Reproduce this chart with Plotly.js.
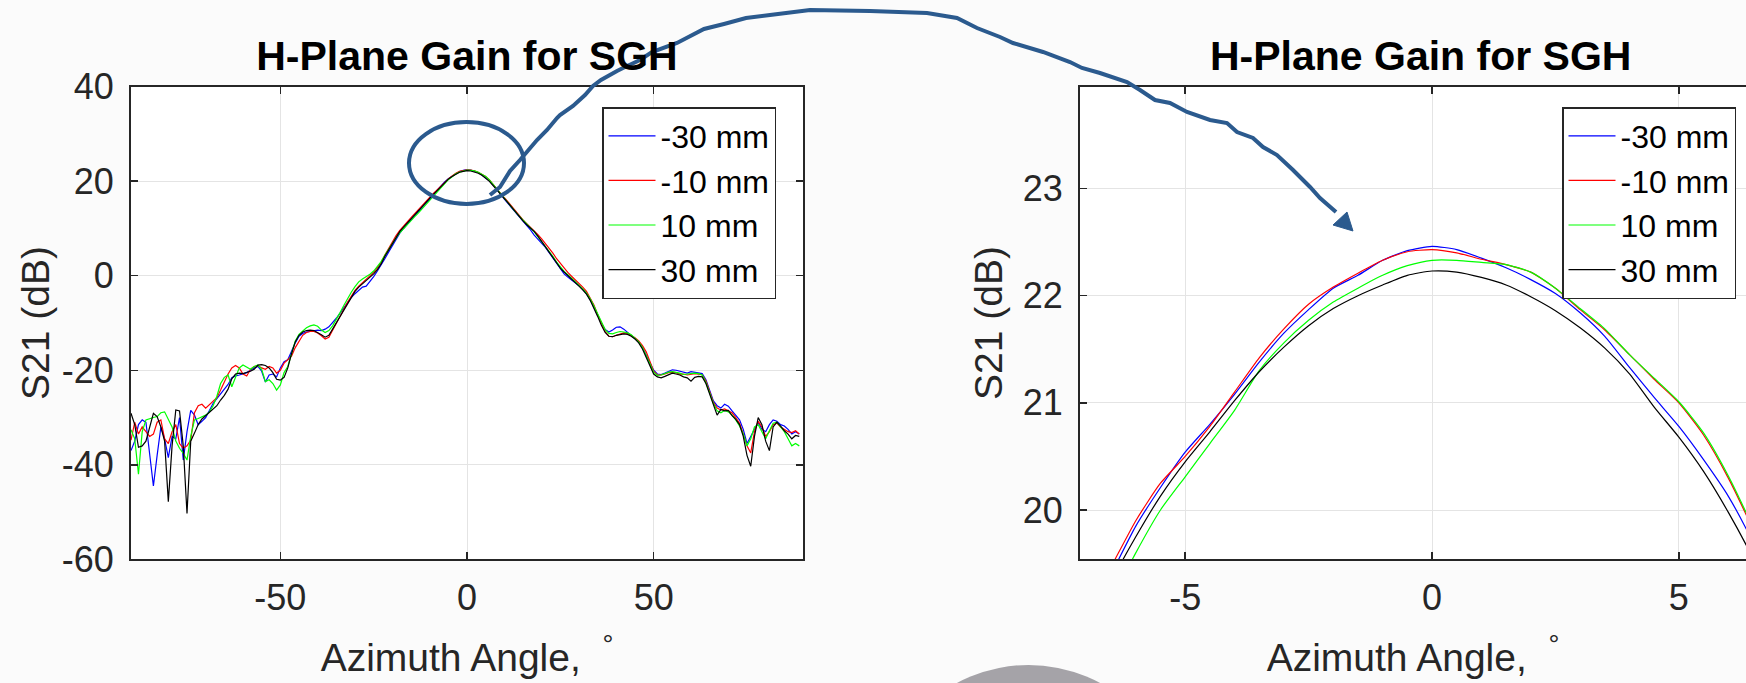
<!DOCTYPE html>
<html><head><meta charset="utf-8">
<script src="https://cdn.plot.ly/plotly-3.0.1.min.js"></script>
<style>html,body{margin:0;padding:0;background:#fbfbfb;overflow:hidden}#chart{width:1746px;height:683px}</style>
</head><body><div id="chart"></div>
<script>
// ---------- DATA ----------
const seriesNames = ['-30 mm', '-10 mm', '10 mm', '30 mm'];
const seriesColors = ['#0000ff', '#ff0000', '#00ff00', '#000000'];

// Full pattern, azimuth angle (deg)
const angle = [
-90,-89,-88,-87,-86,-85,-84,-83,-82,-81,
-80,-79,-78,-77,-76,-75,-74,-73,-72,-71,
-70,-69,-68,-67,-66,-65,-64,-63,-62,-61,
-60,-59,-58,-57,-56,-55,-54,-53,-52,-51,
-50,-49,-48,-47,-46,-45,-44,-43,-42,-41,
-40,-39,-38,-37,-36,-35,-34,-33,-32,-31,
-30,-29,-28,-27,-26,-25,-24,-23,-22,-21,
-20,-19,-18,-17,-16,-15,-14,-13,-12,-11,
-10,-9,-8,-7,-6,-5,-4,-3,-2,-1,
0,1,2,3,4,5,6,7,8,9,
10,11,12,13,14,15,16,17,18,19,
20,21,22,23,24,25,26,27,28,29,
30,31,32,33,34,35,36,37,38,39,
40,41,42,43,44,45,46,47,48,49,
50,51,52,53,54,55,56,57,58,59,
60,61,62,63,64,65,66,67,68,69,
70,71,72,73,74,75,76,77,78,79,
80,81,82,83,84,85,86,87,88,89];

// S21 (dB), -30 mm
const s21_m30 = [
-37.0,-35.0,-31.5,-30.5,-31.0,-38.0,-44.5,-38.0,-32.0,-34.5,
-38.5,-34.0,-34.5,-30.0,-39.0,-33.0,-28.5,-29.5,-31.5,-30.8,
-30.0,-28.5,-27.0,-26.0,-25.0,-24.0,-23.0,-21.6,-21.2,-21.0,
-20.8,-20.5,-20.0,-19.5,-19.2,-20.2,-22.5,-21.0,-20.8,-21.4,
-19.5,-18.2,-17.8,-16.0,-14.2,-12.8,-12.2,-11.9,-11.8,-11.7,
-11.5,-11.6,-11.3,-10.8,-10.0,-9.0,-7.9,-6.8,-5.6,-4.6,
-3.8,-3.0,-2.4,-2.2,-1.3,-0.2,1.0,2.2,3.6,5.0,
6.4,7.7,9.0,10.0,11.0,11.8,12.7,13.6,14.6,15.5,
16.4,17.25,18.1,18.95,19.84,20.54,21.07,21.65,22.07,22.33,
22.46,22.35,22.15,21.84,21.33,20.78,20.13,19.2,18.3,17.3,
16.2,15.3,14.3,13.3,12.4,11.5,10.6,9.7,8.6,7.8,
6.8,6.0,4.9,3.8,2.6,1.4,0.4,-0.3,-0.9,-1.4,
-2.1,-2.9,-3.8,-5.0,-6.5,-8.3,-10.0,-11.4,-11.9,-11.5,
-10.9,-10.8,-11.3,-12.0,-12.6,-13.3,-14.0,-15.2,-16.8,-18.6,
-20.0,-20.8,-20.9,-20.6,-20.2,-19.9,-20.0,-20.2,-20.5,-20.6,
-20.3,-20.4,-20.5,-20.7,-22.0,-24.5,-26.5,-27.5,-28.0,-27.2,
-27.6,-28.6,-29.5,-30.5,-32.5,-35.5,-34.0,-32.5,-31.0,-32.5,
-33.0,-31.5,-30.5,-30.8,-31.5,-31.8,-32.5,-33.5,-33.0,-33.5];

// S21 (dB), -10 mm
const s21_m10 = [
-34.8,-31.0,-33.5,-32.0,-33.0,-34.0,-33.5,-31.0,-30.5,-34.5,
-35.5,-33.0,-31.5,-35.5,-36.5,-36.0,-34.8,-29.0,-27.5,-27.2,
-28.0,-27.2,-26.6,-25.8,-24.2,-22.5,-20.8,-19.5,-19.0,-19.5,
-20.8,-21.2,-19.8,-19.2,-19.0,-19.5,-19.8,-19.2,-19.5,-20.6,
-20.0,-18.5,-17.8,-17.0,-15.2,-13.8,-12.6,-12.0,-11.8,-11.8,
-12.1,-12.7,-13.4,-13.0,-11.6,-10.1,-8.6,-7.1,-5.6,-4.3,
-3.1,-2.2,-1.5,-0.8,-0.1,0.7,1.7,2.9,4.4,5.8,
7.2,8.5,9.6,10.6,11.4,12.3,13.2,14.0,14.9,15.7,
16.6,17.4,18.2,19.05,19.9,20.5,21.1,21.69,22.08,22.33,
22.43,22.34,22.22,21.87,21.45,21.0,20.3,19.3,18.4,17.5,
16.5,15.6,14.6,13.6,12.7,11.8,11.0,10.3,9.6,8.7,
7.8,6.8,5.9,4.8,3.6,2.6,1.6,0.7,-0.1,-0.8,
-1.6,-2.4,-3.3,-4.6,-6.2,-8.2,-10.2,-11.8,-12.8,-12.9,
-12.6,-12.3,-12.1,-12.2,-12.6,-13.1,-13.8,-14.8,-16.1,-18.0,
-20.2,-21.0,-21.0,-20.8,-20.5,-20.4,-20.5,-20.8,-20.8,-21.0,
-20.9,-20.7,-20.8,-21.0,-22.3,-24.6,-26.8,-28.0,-28.4,-28.2,
-28.6,-29.0,-30.0,-31.2,-33.5,-36.0,-37.5,-33.0,-30.8,-32.0,
-34.0,-33.0,-31.5,-31.2,-32.0,-32.5,-33.0,-33.2,-32.8,-33.5];

// S21 (dB), 10 mm
const s21_p10 = [
-32.6,-34.5,-42.0,-33.0,-30.5,-30.2,-30.0,-29.8,-29.0,-28.8,
-30.5,-32.0,-35.0,-36.5,-37.6,-39.0,-34.0,-30.5,-30.2,-29.8,
-29.5,-28.8,-27.5,-25.5,-22.8,-21.5,-21.0,-23.5,-21.5,-19.5,
-18.9,-19.4,-19.8,-19.2,-18.9,-19.8,-22.4,-22.0,-22.8,-24.2,
-23.1,-20.5,-19.2,-16.5,-13.8,-12.4,-11.6,-11.0,-10.6,-10.4,
-10.7,-11.5,-12.0,-11.6,-10.6,-9.3,-7.8,-6.3,-4.8,-3.5,
-2.3,-1.3,-0.7,-0.2,0.3,1.0,1.9,3.0,4.3,5.6,
6.9,8.0,9.1,10.0,10.9,11.7,12.5,13.3,14.2,15.0,
15.9,16.8,17.8,18.7,19.6,20.33,20.93,21.58,21.93,22.2,
22.33,22.31,22.21,21.88,21.45,21.0,20.3,19.3,18.5,17.5,
16.5,15.5,14.5,13.5,12.6,11.7,10.9,10.1,9.3,8.3,
7.3,6.3,5.2,4.1,2.9,1.8,0.9,0.2,-0.5,-1.2,
-2.0,-2.8,-3.7,-4.9,-6.4,-8.1,-9.9,-11.4,-12.2,-12.3,
-12.0,-11.8,-11.9,-12.1,-12.5,-13.2,-14.0,-15.2,-16.8,-18.6,
-20.4,-21.1,-21.0,-20.7,-20.4,-20.3,-20.4,-20.6,-20.9,-20.8,
-20.7,-20.6,-20.7,-21.0,-22.6,-25.0,-27.0,-28.6,-29.0,-28.5,
-28.8,-29.5,-30.5,-31.8,-33.5,-36.0,-34.5,-32.0,-31.5,-33.0,
-34.5,-32.8,-31.2,-31.0,-32.0,-33.0,-34.5,-36.0,-35.5,-36.0];

// S21 (dB), 30 mm
const s21_p30 = [
-29.1,-31.5,-36.3,-36.0,-35.0,-32.0,-29.1,-29.8,-32.0,-35.0,
-47.8,-36.0,-28.4,-28.6,-36.0,-50.3,-35.0,-33.3,-31.5,-30.3,
-29.6,-29.0,-28.3,-27.5,-26.3,-25.3,-24.0,-21.8,-20.8,-20.6,
-20.7,-20.5,-20.2,-19.8,-18.9,-18.8,-19.0,-19.5,-20.5,-21.9,
-22.1,-21.5,-19.5,-16.5,-14.0,-12.6,-11.9,-11.6,-11.5,-11.6,
-12.0,-12.5,-13.0,-12.6,-11.3,-10.0,-8.6,-7.2,-5.8,-4.5,
-3.3,-2.4,-1.7,-1.0,-0.4,0.4,1.3,2.5,4.1,5.5,
6.9,8.2,9.4,10.3,11.2,12.0,12.9,13.75,14.7,15.5,
16.35,17.2,18.05,18.85,19.75,20.45,21.02,21.53,21.9,22.1,
22.23,22.16,21.99,21.7,21.27,20.68,19.98,19.05,18.2,17.3,
16.3,15.4,14.4,13.4,12.5,11.6,10.8,10.1,9.4,8.4,
7.3,6.2,5.1,4.0,2.7,1.6,0.8,0.1,-0.6,-1.3,
-2.2,-3.0,-3.9,-5.2,-6.8,-8.6,-10.5,-12.0,-12.8,-12.9,
-12.6,-12.4,-12.3,-12.4,-12.8,-13.4,-14.2,-15.5,-17.3,-19.3,
-20.8,-21.4,-21.6,-21.3,-20.9,-20.6,-20.8,-21.0,-21.4,-21.6,
-22.3,-21.5,-21.3,-21.4,-22.8,-25.0,-27.5,-29.5,-28.3,-28.6,
-28.5,-29.6,-30.4,-31.5,-34.0,-38.0,-40.3,-34.0,-30.0,-31.5,
-35.0,-37.0,-32.0,-31.0,-31.8,-32.8,-33.5,-34.5,-33.8,-34.0];

// Zoomed main-lobe view, azimuth angle (deg)
const angleZoom = [-7.5,-7,-6.5,-6,-5.5,-5,-4.5,-4,-3.5,-3,-2.5,-2,-1.5,-1,-0.5,
                   0,0.5,1,1.5,2,2.5,3,3.5,4,4.5,5,5.5,6,6.5,7];
const zoom_m30 = [18.45,18.95,19.40,19.85,20.21,20.54,20.80,21.08,21.38,21.65,21.87,22.07,22.19,22.33,22.42,
                  22.46,22.43,22.35,22.26,22.15,22.02,21.84,21.62,21.33,21.05,20.78,20.47,20.13,19.70,19.20];
const zoom_m10 = [18.55,19.05,19.47,19.90,20.25,20.50,20.78,21.10,21.42,21.69,21.92,22.08,22.21,22.33,22.41,
                  22.43,22.40,22.34,22.29,22.22,22.07,21.87,21.68,21.45,21.22,21.00,20.70,20.30,19.82,19.30];
const zoom_p10 = [18.20,18.70,19.15,19.60,20.00,20.31,20.62,20.93,21.30,21.56,21.77,21.94,22.07,22.19,22.28,
                  22.33,22.33,22.31,22.29,22.22,22.07,21.88,21.69,21.45,21.23,21.01,20.72,20.32,19.84,19.32];
const zoom_p30 = [18.35,18.85,19.33,19.75,20.13,20.45,20.73,21.02,21.29,21.52,21.72,21.88,22.00,22.10,22.19,
                  22.23,22.22,22.17,22.10,21.99,21.86,21.70,21.51,21.27,20.96,20.68,20.36,19.98,19.55,19.05];

// Axis ticks
const leftXTicks = [-50, 0, 50];
const leftXTickText = ['-50', '0', '50'];
const leftYTicks = [-60, -40, -20, 0, 20, 40];
const leftYTickText = ['-60', '-40', '-20', '0', '20', '40'];
const rightXTicks = [-5, 0, 5];
const rightXTickText = ['-5', '0', '5'];
const rightYTicks = [20, 21, 22, 23];
const rightYTickText = ['20', '21', '22', '23'];

const chartTitle = 'H-Plane Gain for SGH';
const xTitle = 'Azimuth Angle,\u00a0\u00a0<sup>°</sup>';
const yTitle = 'S21 (dB)';

// ---------- LAYOUT ----------
const W = 1746, H = 683;
const px = x => x / W, py = y => 1 - y / H;
const FONT = 'Liberation Sans, Arial, Helvetica, sans-serif';
const AX = '#262626';

const fullSeries = [s21_m30, s21_m10, s21_p10, s21_p30];
const zoomSeries = [zoom_m30, zoom_m10, zoom_p10, zoom_p30];

const traces = [];
fullSeries.forEach((s, i) => traces.push({
  x: angle, y: s, xaxis: 'x', yaxis: 'y', type: 'scatter', mode: 'lines',
  name: seriesNames[i], legend: 'legend',
  line: {color: seriesColors[i], width: 1.2}
}));
zoomSeries.forEach((s, i) => traces.push({
  x: angleZoom, y: s, xaxis: 'x2', yaxis: 'y2', type: 'scatter', mode: 'lines',
  name: seriesNames[i], legend: 'legend2',
  line: {color: seriesColors[i], width: 1.2, shape: 'spline', smoothing: 0.6}
}));

function axisBase(extra) {
  return Object.assign({
    showline: true, linecolor: AX, linewidth: 2,
    ticks: 'inside', ticklen: 7, tickwidth: 1.5, tickcolor: AX,
    showgrid: true, gridcolor: '#e4e4e4', gridwidth: 1,
    zeroline: false, tickmode: 'array',
    tickfont: {family: FONT, size: 36, color: AX},
    automargin: false
  }, extra);
}

const yDom = [py(559.3), py(86.7)];

const legendBase = {
  xanchor: 'left', yanchor: 'top',
  bgcolor: '#ffffff', bordercolor: AX, borderwidth: 1.5,
  font: {family: FONT, size: 32, color: '#000'},
  itemwidth: 47,
  tracegroupgap: 0
};

// Blue hand-drawn arrow (decoration)
const arrowPts = [[490,195],[500,187],[510,171],[520,160],[537,140],[547,130],[557,118],[560,115],
  [573,106],[585,95],[593,86],[601,80],[617,71],[623,68],[640,60],[652,52],[677,43],[704,29],
  [724,24],[746,18],[770,15],[810,10],[870,11],[927,13],[957,18],[977,28],[1000,37],[1013,43],
  [1043,52],[1070,62],[1082,68],[1100,73],[1127,82],[1140,90],[1155,100],[1170,103],[1187,112],
  [1210,120],[1227,123],[1237,132],[1253,138],[1263,147],[1277,155],[1293,170],[1310,187],
  [1320,198],[1336,212]];
const arrowPath = arrowPts.map((p, i) => (i ? 'L' : 'M') + px(p[0]).toFixed(5) + ',' + py(p[1]).toFixed(5)).join(' ');
const headPath = 'M' + px(1333).toFixed(5) + ',' + py(225).toFixed(5) +
  ' L' + px(1347).toFixed(5) + ',' + py(212).toFixed(5) +
  ' L' + px(1353).toFixed(5) + ',' + py(231).toFixed(5) + ' Z';
const BLUE = '#2b5a8e';

const layout = {
  width: W, height: H, autosize: false,
  margin: {l: 0, r: 0, t: 0, b: 0, pad: 0},
  paper_bgcolor: '#fbfbfb', plot_bgcolor: '#ffffff',
  font: {family: FONT, color: AX},
  title: {text: '<b>' + chartTitle + '</b>', x: px(467), xanchor: 'center', xref: 'paper',
          y: py(56), yanchor: 'middle', yref: 'container', font: {family: FONT, size: 41, color: '#000'}},
  xaxis: axisBase({domain: [px(131), px(803)], range: [-90, 90], mirror: 'ticks', anchor: 'y',
    tickvals: leftXTicks, ticktext: leftXTickText, ticklabelstandoff: 5,
    title: {text: xTitle, font: {family: FONT, size: 39, color: AX}, standoff: 27}}),
  yaxis: axisBase({domain: yDom, range: [-60, 40], mirror: 'ticks', anchor: 'x',
    tickvals: leftYTicks, ticktext: leftYTickText, ticklabelstandoff: 8,
    title: {text: yTitle, font: {family: FONT, size: 39, color: AX}, standoff: 0}}),
  xaxis2: axisBase({domain: [px(1080), 1], range: [-7.13, 6.36], mirror: 'ticks', anchor: 'y2',
    tickvals: rightXTicks, ticktext: rightXTickText, ticklabelstandoff: 5,
    title: {text: xTitle, font: {family: FONT, size: 39, color: AX}, standoff: 27}}),
  yaxis2: axisBase({domain: yDom, range: [19.54, 23.95], mirror: false, anchor: 'x2',
    tickvals: rightYTicks, ticktext: rightYTickText, ticklabelstandoff: 8,
    title: {text: yTitle, font: {family: FONT, size: 39, color: AX}, standoff: 8}}),
  legend: Object.assign({x: px(602), y: py(107)}, legendBase),
  legend2: Object.assign({x: px(1562), y: py(107)}, legendBase),
  annotations: [{
    text: '<b>' + chartTitle + '</b>', xref: 'paper', yref: 'paper',
    x: px(1420), y: py(56), xanchor: 'center', yanchor: 'middle', showarrow: false,
    font: {family: FONT, size: 41, color: '#000'}
  }],
  shapes: [
    {type: 'circle', xref: 'paper', yref: 'paper', x0: px(877), x1: px(1180), y0: py(968), y1: py(665),
     fillcolor: '#a5a3a8', line: {width: 0}, layer: 'above'},
    {type: 'circle', xref: 'paper', yref: 'paper', x0: px(409), x1: px(524), y0: py(204), y1: py(122),
     line: {color: BLUE, width: 4}, layer: 'above'},
    {type: 'path', xref: 'paper', yref: 'paper', path: arrowPath, line: {color: BLUE, width: 4}, layer: 'above'},
    {type: 'path', xref: 'paper', yref: 'paper', path: headPath, fillcolor: BLUE, line: {color: BLUE, width: 1}, layer: 'above'}
  ]
};

Plotly.newPlot('chart', traces, layout, {displayModeBar: false, staticPlot: true});
</script></body></html>
